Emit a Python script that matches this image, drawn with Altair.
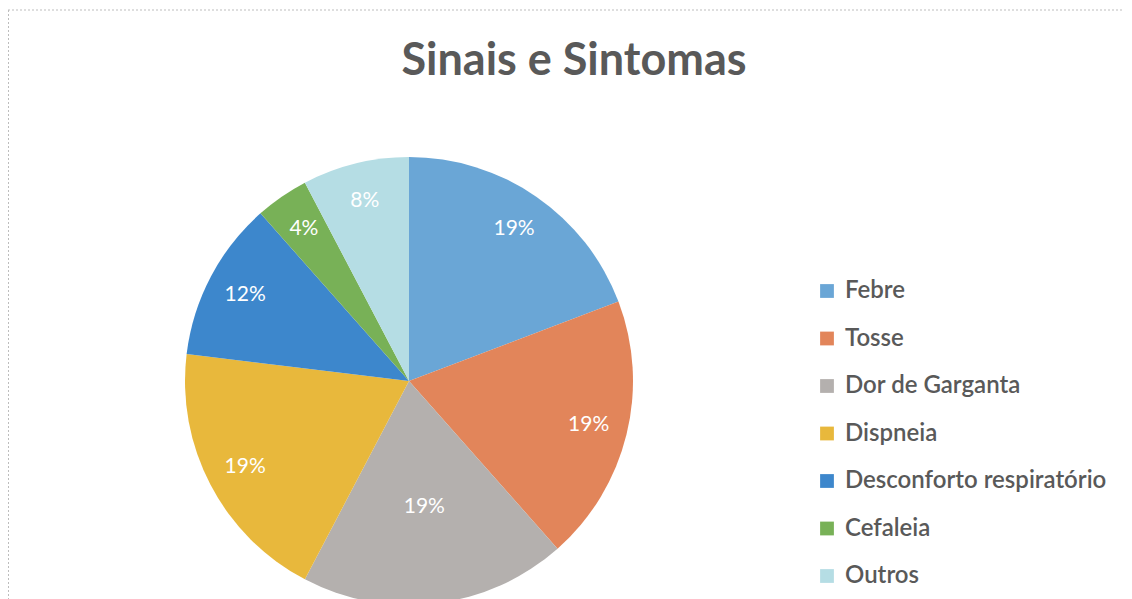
import altair as alt
import pandas as pd

title_text = ["Sinais e Sintomas"]
categories = ["Febre", "Tosse", "Dor de Garganta", "Dispneia",
              "Desconforto respiratório", "Cefaleia", "Outros"]
counts = [5, 5, 5, 5, 3, 1, 2]
colors = ["#6aa6d6", "#e2855a", "#b4b0ae", "#e8b83c", "#3d87cc", "#78b157", "#b5dde4"]

df = pd.DataFrame({"cat": categories, "n": counts, "idx": list(range(len(categories)))})

CX, CY, R = 401, 373, 224
inner_label = "Dor de Garganta"

base = alt.Chart(df).transform_joinaggregate(total="sum(n)").transform_calculate(
    pct="datum.n / datum.total"
)

pie = base.mark_arc(radius=R).encode(
    theta=alt.Theta("n:Q", stack=True),
    color=alt.Color(
        "cat:N",
        scale=alt.Scale(domain=categories, range=colors),
        legend=alt.Legend(
            title=None, orient="none", legendX=807, legendY=271,
            symbolType="square", symbolSize=190, symbolStrokeWidth=0,
            labelFontSize=24, labelFont="Lato", labelColor="#595959",
            labelFontWeight=600, rowPadding=23.5, labelOffset=6, labelLimit=0,
        ),
    ),
    order=alt.Order("idx:Q"),
    x=alt.value(CX),
    y=alt.value(CY),
)


def label_layer(radius, show_inner):
    test = f"datum.cat == '{inner_label}'" if show_inner else f"datum.cat != '{inner_label}'"
    return base.mark_text(font="Lato", fontSize=21, color="white", radius=radius).encode(
        theta=alt.Theta("n:Q", stack=True),
        detail="cat:N",
        order=alt.Order("idx:Q"),
        text=alt.Text("pct:Q", format=".0%"),
        opacity=alt.condition(test, alt.value(1), alt.value(0)),
        x=alt.value(CX),
        y=alt.value(CY),
    )


labels_outer = label_layer(185, False)
labels_inner = label_layer(127, True)

title = alt.Chart(pd.DataFrame({"t": title_text})).mark_text(
    font="Lato", fontSize=45, fontWeight="bold", color="#595959", baseline="middle", align="center"
).encode(text="t:N", x=alt.value(566), y=alt.value(53))

frame_top = alt.Chart(pd.DataFrame({"a": [0]})).mark_rule(
    color="#bdbdbd", strokeDash=[2, 2], strokeWidth=1
).encode(x=alt.value(0), x2=alt.value(1116), y=alt.value(2))

frame_left = alt.Chart(pd.DataFrame({"a": [0]})).mark_rule(
    color="#bdbdbd", strokeDash=[2, 2], strokeWidth=1
).encode(x=alt.value(0.5), y=alt.value(2), y2=alt.value(640))

chart = alt.layer(frame_top, frame_left, pie, labels_outer, labels_inner, title).properties(
    width=1116, height=640,
    autosize=alt.AutoSizeParams(type="none"),
    padding=0,
).configure_view(stroke=None)

chart.save("out.html", embed_options={"renderer": "svg", "actions": False})
